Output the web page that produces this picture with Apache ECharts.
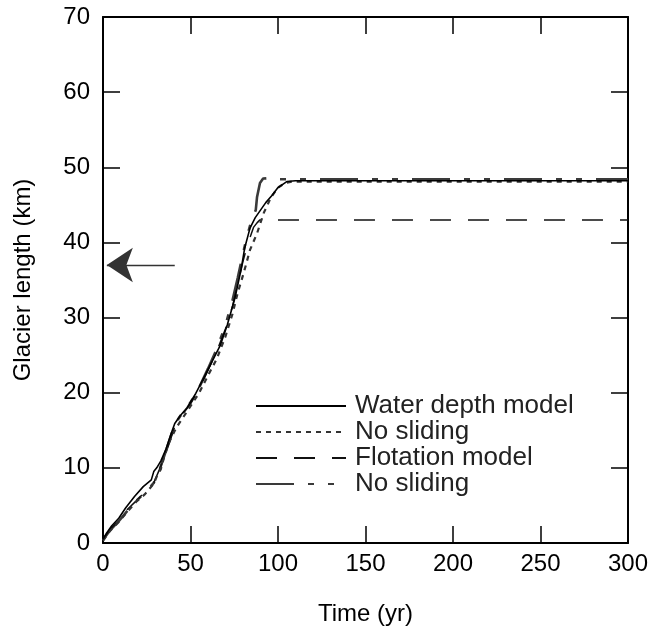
<!DOCTYPE html>
<html>
<head>
<meta charset="utf-8">
<script src="https://cdn.jsdelivr.net/npm/echarts@6/dist/echarts.min.js"></script>
<style>
  html, body { margin: 0; padding: 0; background: #fff; }
  #chart { width: 665px; height: 631px; }
</style>
</head>
<body>
<div id="chart"></div>
<script>
// time (yr), glacier length (km)
const waterDepth = [
  [0, 0.5], [2, 1.3], [5, 2.3], [9, 3.3], [13, 4.7], [18, 6.2], [23, 7.5], [27.6, 8.4],
  [29, 9.5], [30.7, 10], [33, 10.9], [36, 12.5], [39, 14.6], [41, 15.9], [44, 16.9],
  [48, 18], [53, 19.9], [57, 21.7], [62, 24], [67, 26.3], [71, 29], [75.4, 32.6],
  [79, 36.5], [81, 39.3], [84, 41.9], [87, 43.3], [90, 44.3], [93, 45.3], [96.4, 46.2],
  [100, 47.3], [105, 48.1], [110, 48.2], [300, 48.2]
];
const waterNoSliding = [
  [0, 0.3], [4, 1.6], [9, 2.8], [14, 4.2], [19, 5.5], [24, 6.5], [29, 7.9], [31, 9],
  [33, 9.8], [35, 11.5], [38, 13.5], [42, 15.4], [46, 16.8], [50, 18.2], [55, 20],
  [60, 22.3], [65, 24.5], [70, 27.5], [74, 30.5], [77, 33.3], [80.6, 36.1], [84, 39],
  [88, 41.2], [92, 44], [96, 46], [100, 47.3], [104, 47.9], [108, 48.1], [300, 48.1]
];
const flotation = [
  [0, 0.5], [4, 1.8], [9, 3], [14, 4.5], [19, 5.6], [24, 6.8], [29, 8], [33, 10.2],
  [37, 12.7], [41, 15.5], [45, 17], [50, 18.5], [55, 20.5], [60, 23], [65, 25.5],
  [70, 28.5], [74, 31.5], [77, 34.5], [80, 37.5], [83, 40], [86, 42], [88, 42.6],
  [89.7, 43], [300, 43]
];
const flotationNoSliding = [
  [0, 0.4], [4, 1.7], [9, 2.9], [14, 4.3], [19, 5.6], [24, 6.7], [29, 8], [33, 10.2],
  [37, 13], [41, 15.8], [45, 17.2], [50, 18.7], [55, 20.7], [60, 23.2], [65, 25.8],
  [70, 29], [74, 32.3], [77, 35.3], [80, 38.5], [82.5, 41], [85, 43], [87.3, 44.3],
  [88, 46], [89.7, 47.9], [91.5, 48.5], [98, 48.6], [100, 48.4], [300, 48.4]
];
const seriesNames = ['wd', 'wdns', 'fl', 'flns'];
const legendLabels = ['Water depth model', 'No sliding', 'Flotation model', 'No sliding'];
const xTicks = [0, 50, 100, 150, 200, 250, 300];
const yTicks = [0, 10, 20, 30, 40, 50, 60, 70];
// observed length marker (arrow)
const arrowFrom = [41, 37];
const arrowTo = [2.2, 37];

const font = 'Liberation Sans, Arial, Helvetica, sans-serif';
const chart = echarts.init(document.getElementById('chart'), null, { renderer: 'canvas' });

function axisBase(extra) {
  return Object.assign({
    type: 'value',
    axisLine: { show: true, onZero: false, lineStyle: { color: '#000', width: 2 } },
    axisTick: { show: true, inside: true, length: 17, lineStyle: { color: '#000', width: 1.5 } },
    splitLine: { show: false },
    axisLabel: { color: '#000', fontSize: 24, fontFamily: font }
  }, extra);
}

const option = {
  backgroundColor: '#fff',
  animation: false,
  grid: { left: 103, right: 37, top: 17, bottom: 88 },
  xAxis: [
    axisBase({
      min: 0, max: xTicks[xTicks.length - 1], interval: 50, position: 'bottom',
      name: 'Time (yr)', nameLocation: 'middle', nameGap: 59,
      nameTextStyle: { fontSize: 24, fontFamily: font, color: '#000' },
      axisLabel: { color: '#000', fontSize: 24, fontFamily: font, margin: 9 }
    }),
    axisBase({ min: 0, max: 300, interval: 50, position: 'top', axisLabel: { show: false } })
  ],
  yAxis: [
    axisBase({
      min: 0, max: yTicks[yTicks.length - 1], interval: 10, position: 'left',
      name: 'Glacier length (km)', nameLocation: 'middle', nameGap: 68,
      nameTextStyle: { fontSize: 24, fontFamily: font, color: '#000' },
      axisLabel: { color: '#000', fontSize: 24, fontFamily: font, margin: 13 }
    }),
    axisBase({ min: 0, max: 70, interval: 10, position: 'right', axisLabel: { show: false } })
  ],
  legend: {
    orient: 'vertical',
    left: 255, top: 393, padding: 0,
    itemWidth: 90, itemHeight: 14, itemGap: 0,
    data: seriesNames,
    itemStyle: { opacity: 0 },
    formatter: function (name) { return legendLabels[seriesNames.indexOf(name)]; },
    textStyle: { fontSize: 26, fontFamily: font, color: '#222', lineHeight: 25.4, padding: [0, 0, 0, 4] },
    selectedMode: false
  },
  series: [
    {
      name: 'flns', type: 'line', data: flotationNoSliding, symbol: 'none',
      itemStyle: { color: '#3a3a3a' },
      lineStyle: { color: '#3a3a3a', width: 2.6, type: [38, 14, 6, 14, 6, 14] }
    },
    {
      name: 'fl', type: 'line', data: flotation, symbol: 'none',
      itemStyle: { color: '#111' },
      lineStyle: { color: '#111', width: 1.5, type: [21, 17] }
    },
    {
      name: 'wdns', type: 'line', data: waterNoSliding, symbol: 'none',
      itemStyle: { color: '#333' },
      lineStyle: { color: '#333', width: 2.2, type: [5, 5] }
    },
    {
      name: 'wd', type: 'line', data: waterDepth, symbol: 'none',
      itemStyle: { color: '#000' },
      lineStyle: { color: '#000', width: 1.6, type: 'solid' },
      markLine: {
        silent: true,
        symbol: ['none', 'arrow'],
        symbolSize: 26,
        label: { show: false },
        lineStyle: { color: '#333', width: 1.3, type: 'solid' },
        emphasis: { disabled: true },
        data: [[{ coord: arrowFrom }, { coord: arrowTo }]]
      }
    }
  ]
};
chart.setOption(option);
</script>
</body>
</html>
